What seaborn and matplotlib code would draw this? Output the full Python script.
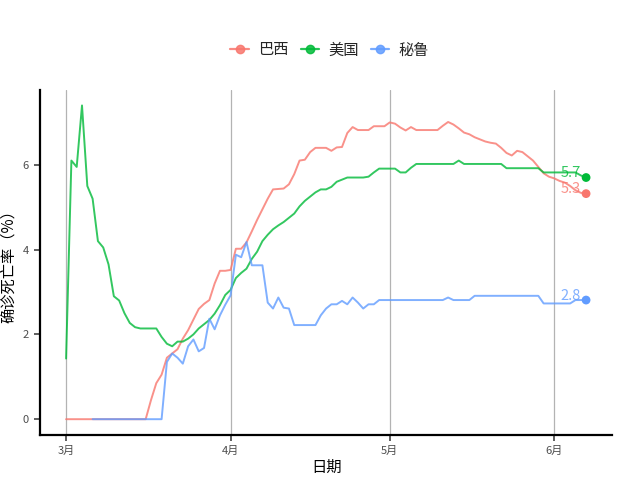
import pandas as pd
import matplotlib
matplotlib.use("Agg")
import matplotlib.pyplot as plt
import matplotlib.dates as mdates
from matplotlib.lines import Line2D
import seaborn as sns

# 数据：每日确诊死亡率（%），2020-03-01 ~ 2020-06-07
dates = pd.date_range("2020-03-01", "2020-06-07", freq="D")
peru_dates = pd.date_range("2020-03-06", "2020-06-07", freq="D")

countries = ["巴西", "美国", "秘鲁"]
colors = ["#F8766D", "#00BA38", "#619CFF"]

usa = [1.43, 6.1, 5.95, 7.4, 5.5, 5.2, 4.2, 4.05, 3.65, 2.9,
       2.8, 2.5, 2.27, 2.17, 2.14, 2.14, 2.14, 2.14, 1.94, 1.78,
       1.72, 1.83, 1.83, 1.9, 2.0, 2.14, 2.24, 2.34, 2.49, 2.69,
       2.93, 3.05, 3.33, 3.45, 3.55, 3.78, 3.95, 4.2, 4.35, 4.48,
       4.57, 4.65, 4.75, 4.85, 5.02, 5.15, 5.25, 5.35, 5.42, 5.42,
       5.48, 5.6, 5.65, 5.7, 5.7, 5.7, 5.7, 5.72, 5.82, 5.91,
       5.91, 5.91, 5.91, 5.82, 5.82, 5.93, 6.02, 6.02, 6.02, 6.02,
       6.02, 6.02, 6.02, 6.02, 6.1, 6.02, 6.02, 6.02, 6.02, 6.02,
       6.02, 6.02, 6.02, 5.92, 5.92, 5.92, 5.92, 5.92, 5.92, 5.92,
       5.82, 5.82, 5.82, 5.82, 5.82, 5.82, 5.82, 5.75, 5.7]

brazil = [0] * 16 + [
       0.45, 0.85, 1.05, 1.45,
       1.55, 1.65, 1.9, 2.1, 2.35, 2.6, 2.72, 2.81, 3.2, 3.5,
       3.5, 3.52, 4.02, 4.02, 4.17, 4.43, 4.7, 4.95, 5.2, 5.42,
       5.43, 5.44, 5.54, 5.78, 6.1, 6.12, 6.3, 6.4, 6.4, 6.4,
       6.33, 6.41, 6.42, 6.75, 6.89, 6.82, 6.82, 6.82, 6.91, 6.91,
       6.91, 7.0, 6.97, 6.88, 6.81, 6.89, 6.82, 6.82, 6.82, 6.82,
       6.82, 6.92, 7.01, 6.95, 6.86, 6.76, 6.72, 6.65, 6.6, 6.55,
       6.52, 6.5, 6.4, 6.28, 6.22, 6.33, 6.3, 6.2, 6.1, 5.95,
       5.8, 5.72, 5.68, 5.62, 5.58, 5.5, 5.4, 5.34, 5.32]

peru = [0] * 14 + [
       1.35, 1.55, 1.45, 1.31, 1.72, 1.88, 1.6, 1.68, 2.37, 2.12, 2.45,
       2.7, 2.92, 3.88, 3.82, 4.18, 3.63, 3.63, 3.63, 2.75, 2.61,
       2.87, 2.63, 2.61, 2.22, 2.22, 2.22, 2.22, 2.22, 2.45, 2.61,
       2.71, 2.71, 2.79, 2.71, 2.87, 2.75, 2.61, 2.71, 2.71, 2.81,
       2.81, 2.81, 2.81, 2.81, 2.81, 2.81, 2.81, 2.81, 2.81, 2.81,
       2.81, 2.81, 2.87, 2.81, 2.81, 2.81, 2.81, 2.91, 2.91, 2.91,
       2.91, 2.91, 2.91, 2.91, 2.91, 2.91, 2.91, 2.91, 2.91, 2.91,
       2.73, 2.73, 2.73, 2.73, 2.73, 2.73, 2.81, 2.81, 2.81]

df = pd.concat([
    pd.DataFrame({"日期": dates, "死亡率": brazil, "国家": "巴西"}),
    pd.DataFrame({"日期": dates, "死亡率": usa, "国家": "美国"}),
    pd.DataFrame({"日期": peru_dates, "死亡率": peru, "国家": "秘鲁"}),
], ignore_index=True)

sns.set_theme(style="white")
plt.rcParams["font.family"] = ["Noto Sans CJK SC", "DejaVu Sans"]

fig = plt.figure(figsize=(6.4, 4.8), dpi=100)
ax = fig.add_axes([0.0625, 0.094, 0.894, 0.719])

palette = dict(zip(countries, colors))
sns.lineplot(data=df, x="日期", y="死亡率", hue="国家", palette=palette,
             hue_order=countries, alpha=0.8, linewidth=1.4, ax=ax, legend=False)

# 末端点和标签
last = df.groupby("国家").tail(1)
sns.scatterplot(data=last, x="日期", y="死亡率", hue="国家", palette=palette,
                hue_order=countries, s=40, edgecolor="none", ax=ax, legend=False)
for _, r in last.iterrows():
    ax.annotate(f"{r['死亡率']:.1f}", (r["日期"], r["死亡率"]),
                xytext=(-4, 3), textcoords="offset points",
                ha="right", va="center", fontsize=10.5,
                color=palette[r["国家"]], alpha=0.8)

ax.set_ylim(-0.37, 7.77)
ax.set_xlim(pd.Timestamp("2020-02-25 02:00"), pd.Timestamp("2020-06-11 22:00"))
ax.set_yticks([0, 2, 4, 6])
ax.xaxis.set_major_locator(mdates.MonthLocator())
ax.xaxis.set_major_formatter(plt.FuncFormatter(
    lambda v, p: f"{mdates.num2date(v).month}月"))

ax.grid(axis="x", color="#B3B3B3", linewidth=0.9)
ax.grid(axis="y", visible=False)
for s in ["top", "right"]:
    ax.spines[s].set_visible(False)
for s in ["left", "bottom"]:
    ax.spines[s].set_color("black")
    ax.spines[s].set_linewidth(1.6)
ax.tick_params(axis="both", length=4, width=1.1, color="#333333",
               labelsize=8, labelcolor="#4D4D4D", bottom=True, left=True, pad=4)

ax.set_xlabel("日期", fontsize=11, color="black", labelpad=2)
ax.set_ylabel("确诊死亡率（%）", fontsize=11, color="black", labelpad=4)

handles = [Line2D([0], [0], color=c, lw=1.6, marker="o", markersize=6,
                  alpha=0.85) for c in colors]
fig.legend(handles, countries, loc="center", bbox_to_anchor=(0.515, 0.896),
           ncol=3, frameon=False, fontsize=11, handlelength=1.2,
           handletextpad=0.6, columnspacing=0.8)

fig.savefig("out.png", dpi=100)
